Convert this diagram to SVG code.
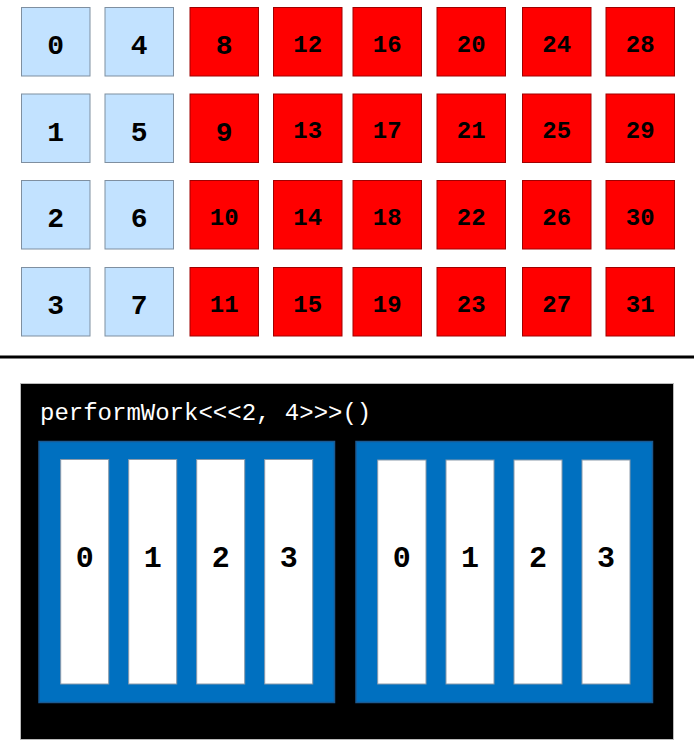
<svg xmlns="http://www.w3.org/2000/svg" width="694" height="741" viewBox="0 0 694 741">
<style>
.lb{fill:#C2E2FF;stroke:#7F8FA0;stroke-width:1}
.rd{fill:#FF0000;stroke:#A00000;stroke-width:1}
.t1{font-family:"Liberation Mono","Courier New",monospace;font-weight:bold;font-size:28px;fill:#000;text-anchor:middle}
.t2{font-family:"Liberation Mono","Courier New",monospace;font-weight:bold;font-size:24px;fill:#000;text-anchor:middle}
.blk{fill:#0070C0;stroke:#1B5A92;stroke-width:1.5}
.bar{fill:#FFFFFF;stroke:#8A9AAA;stroke-width:1}
.tb{font-family:"Liberation Mono","Courier New",monospace;font-weight:bold;font-size:30px;fill:#000;text-anchor:middle}
.code{font-family:"Liberation Mono","Courier New",monospace;font-size:24px;fill:#FFFFFF}
</style>
<g id="grid">
<g id="c0"><rect class="lb" x="21.5" y="7.5" width="68.5" height="68.5"/><text class="t1" x="55.75" y="54">0</text></g>
<g id="c1"><rect class="lb" x="21.5" y="94" width="68.5" height="68.5"/><text class="t1" x="55.75" y="140.5">1</text></g>
<g id="c2"><rect class="lb" x="21.5" y="180.5" width="68.5" height="68.5"/><text class="t1" x="55.75" y="227">2</text></g>
<g id="c3"><rect class="lb" x="21.5" y="267.5" width="68.5" height="68.5"/><text class="t1" x="55.75" y="314">3</text></g>
<g id="c4"><rect class="lb" x="105" y="7.5" width="68.5" height="68.5"/><text class="t1" x="139.25" y="54">4</text></g>
<g id="c5"><rect class="lb" x="105" y="94" width="68.5" height="68.5"/><text class="t1" x="139.25" y="140.5">5</text></g>
<g id="c6"><rect class="lb" x="105" y="180.5" width="68.5" height="68.5"/><text class="t1" x="139.25" y="227">6</text></g>
<g id="c7"><rect class="lb" x="105" y="267.5" width="68.5" height="68.5"/><text class="t1" x="139.25" y="314">7</text></g>
<g id="c8"><rect class="rd" x="190" y="7.5" width="68.5" height="68.5"/><text class="t1" x="224.25" y="54">8</text></g>
<g id="c9"><rect class="rd" x="190" y="94" width="68.5" height="68.5"/><text class="t1" x="224.25" y="140.5">9</text></g>
<g id="c10"><rect class="rd" x="190" y="180.5" width="68.5" height="68.5"/><text class="t2" x="224.25" y="224.5">10</text></g>
<g id="c11"><rect class="rd" x="190" y="267.5" width="68.5" height="68.5"/><text class="t2" x="224.25" y="311.5">11</text></g>
<g id="c12"><rect class="rd" x="273.5" y="7.5" width="68.5" height="68.5"/><text class="t2" x="307.75" y="52">12</text></g>
<g id="c13"><rect class="rd" x="273.5" y="94" width="68.5" height="68.5"/><text class="t2" x="307.75" y="138">13</text></g>
<g id="c14"><rect class="rd" x="273.5" y="180.5" width="68.5" height="68.5"/><text class="t2" x="307.75" y="224.5">14</text></g>
<g id="c15"><rect class="rd" x="273.5" y="267.5" width="68.5" height="68.5"/><text class="t2" x="307.75" y="311.5">15</text></g>
<g id="c16"><rect class="rd" x="353" y="7.5" width="68.5" height="68.5"/><text class="t2" x="387.25" y="52">16</text></g>
<g id="c17"><rect class="rd" x="353" y="94" width="68.5" height="68.5"/><text class="t2" x="387.25" y="138">17</text></g>
<g id="c18"><rect class="rd" x="353" y="180.5" width="68.5" height="68.5"/><text class="t2" x="387.25" y="224.5">18</text></g>
<g id="c19"><rect class="rd" x="353" y="267.5" width="68.5" height="68.5"/><text class="t2" x="387.25" y="311.5">19</text></g>
<g id="c20"><rect class="rd" x="437" y="7.5" width="68.5" height="68.5"/><text class="t2" x="471.25" y="52">20</text></g>
<g id="c21"><rect class="rd" x="437" y="94" width="68.5" height="68.5"/><text class="t2" x="471.25" y="138">21</text></g>
<g id="c22"><rect class="rd" x="437" y="180.5" width="68.5" height="68.5"/><text class="t2" x="471.25" y="224.5">22</text></g>
<g id="c23"><rect class="rd" x="437" y="267.5" width="68.5" height="68.5"/><text class="t2" x="471.25" y="311.5">23</text></g>
<g id="c24"><rect class="rd" x="522.5" y="7.5" width="68.5" height="68.5"/><text class="t2" x="556.75" y="52">24</text></g>
<g id="c25"><rect class="rd" x="522.5" y="94" width="68.5" height="68.5"/><text class="t2" x="556.75" y="138">25</text></g>
<g id="c26"><rect class="rd" x="522.5" y="180.5" width="68.5" height="68.5"/><text class="t2" x="556.75" y="224.5">26</text></g>
<g id="c27"><rect class="rd" x="522.5" y="267.5" width="68.5" height="68.5"/><text class="t2" x="556.75" y="311.5">27</text></g>
<g id="c28"><rect class="rd" x="606" y="7.5" width="68.5" height="68.5"/><text class="t2" x="640.25" y="52">28</text></g>
<g id="c29"><rect class="rd" x="606" y="94" width="68.5" height="68.5"/><text class="t2" x="640.25" y="138">29</text></g>
<g id="c30"><rect class="rd" x="606" y="180.5" width="68.5" height="68.5"/><text class="t2" x="640.25" y="224.5">30</text></g>
<g id="c31"><rect class="rd" x="606" y="267.5" width="68.5" height="68.5"/><text class="t2" x="640.25" y="311.5">31</text></g>
</g>
<line x1="0" y1="357" x2="694" y2="357" stroke="#000" stroke-width="3"/>
<g id="kernel">
<rect x="20.5" y="383.5" width="653" height="356" fill="#000" stroke="#BBBBBB" stroke-width="1"/>
<text class="code" x="40" y="420">performWork&lt;&lt;&lt;2, 4&gt;&gt;&gt;()</text>
</g>
<g id="block0">
<rect class="blk" x="39" y="441.5" width="295.5" height="261"/>
<g id="b0t0"><rect class="bar" x="60.7" y="459.5" width="48" height="224.5"/><text class="tb" x="84.7" y="567">0</text></g>
<g id="b0t1"><rect class="bar" x="128.7" y="459.5" width="48" height="224.5"/><text class="tb" x="152.7" y="567">1</text></g>
<g id="b0t2"><rect class="bar" x="196.7" y="459.5" width="48" height="224.5"/><text class="tb" x="220.7" y="567">2</text></g>
<g id="b0t3"><rect class="bar" x="264.7" y="459.5" width="48" height="224.5"/><text class="tb" x="288.7" y="567">3</text></g>
</g>
<g id="block1">
<rect class="blk" x="356" y="441.5" width="296.5" height="261"/>
<g id="b1t0"><rect class="bar" x="377.7" y="460" width="48.3" height="224"/><text class="tb" x="401.8" y="567">0</text></g>
<g id="b1t1"><rect class="bar" x="446" y="460" width="48" height="224"/><text class="tb" x="470" y="567">1</text></g>
<g id="b1t2"><rect class="bar" x="514" y="460" width="48" height="224"/><text class="tb" x="538" y="567">2</text></g>
<g id="b1t3"><rect class="bar" x="582" y="460" width="48" height="224"/><text class="tb" x="606" y="567">3</text></g>
</g>
</svg>
